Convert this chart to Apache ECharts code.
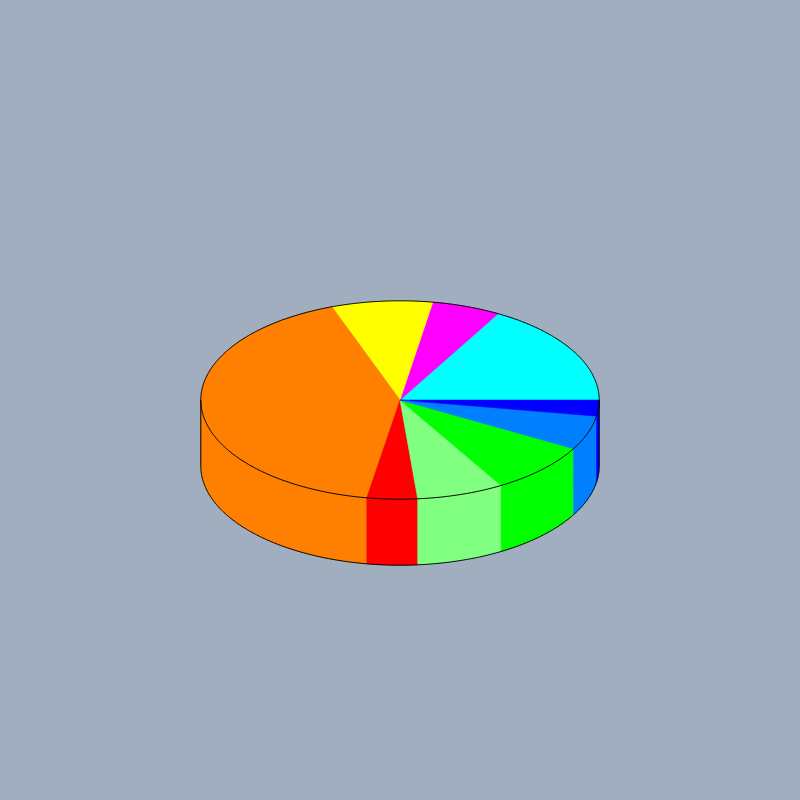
<!DOCTYPE html>
<html>
<head>
<meta charset="utf-8">
<script src="https://cdn.jsdelivr.net/npm/echarts@6/dist/echarts.min.js"></script>
<style>html,body{margin:0;padding:0;background:#a0aec0;}#c{width:800px;height:800px;}</style>
</head>
<body>
<div id="c"></div>
<script>
// Slices in counterclockwise order, starting at 3 o'clock
var categories = ['Cyan', 'Magenta', 'Yellow', 'Orange', 'Red', 'Light green', 'Green', 'Azure', 'Blue'];
var values = [60.5, 20, 29.5, 150.4, 14.7, 25.4, 30.1, 20, 9.4];
var colors = ['#00ffff', '#ff00ff', '#ffff00', '#ff8000', '#ff0000', '#80ff80', '#00ff00', '#0080ff', '#0000ff'];

var total = values.reduce(function (a, b) { return a + b; }, 0);
var starts = [];
(function () { var acc = 0; for (var i = 0; i < values.length; i++) { starts.push(acc); acc += values[i]; } })();

function geom(api) {
  var w = api.getWidth(), h = api.getHeight();
  return { cx: w / 2, cy: h / 2, rx: w * 0.249, ry: h * 0.124, d: h * 0.0825 };
}
function pt(g, deg, dy) {
  var t = deg * Math.PI / 180;
  return [g.cx + g.rx * Math.cos(t), g.cy - g.ry * Math.sin(t) + (dy || 0)];
}
function arc(g, a0, a1, dy) {
  var pts = [];
  var n = Math.max(2, Math.ceil(Math.abs(a1 - a0) / 0.5));
  for (var k = 0; k <= n; k++) pts.push(pt(g, a0 + (a1 - a0) * k / n, dy));
  return pts;
}

function renderSlice(params, api) {
  var g = geom(api);
  var i = params.dataIndex;
  var a0 = starts[i] / total * 360;
  var a1 = (starts[i] + api.value(0)) / total * 360;
  var color = colors[i];
  var children = [];
  var w0 = Math.max(a0, 180), w1 = Math.min(a1, 360);
  if (w1 > w0) {
    var top = arc(g, w0, w1, 0);
    var bot = arc(g, w1, w0, g.d);
    children.push({ type: 'polygon', shape: { points: top.concat(bot) }, style: { fill: color, stroke: color, lineWidth: 0.5 } });
  }
  var pts = [[g.cx, g.cy]].concat(arc(g, a0, a1, 0));
  children.push({ type: 'polygon', shape: { points: pts }, style: { fill: color, stroke: color, lineWidth: 0.5 } });
  return { type: 'group', children: children };
}

function renderOutline(params, api) {
  var g = geom(api);
  var ell = arc(g, 0, 360, 0);
  var bottom = arc(g, 180, 360, g.d);
  var st = { stroke: '#000', lineWidth: 1, fill: null };
  return {
    type: 'group',
    children: [
      { type: 'polyline', shape: { points: ell }, style: st },
      { type: 'polyline', shape: { points: bottom }, style: st },
      { type: 'line', shape: { x1: g.cx - g.rx, y1: g.cy, x2: g.cx - g.rx, y2: g.cy + g.d }, style: st },
      { type: 'line', shape: { x1: g.cx + g.rx, y1: g.cy, x2: g.cx + g.rx, y2: g.cy + g.d }, style: st }
    ]
  };
}

var chart = echarts.init(document.getElementById('c'), null, { renderer: 'canvas' });
chart.setOption({
  backgroundColor: '#a0aec0',
  animation: false,
  series: [
    {
      type: 'custom',
      name: 'slices',
      coordinateSystem: 'none',
      renderItem: renderSlice,
      data: values.map(function (v, i) { return { name: categories[i], value: [v] }; }),
      z: 1
    },
    {
      type: 'custom',
      name: 'outline',
      coordinateSystem: 'none',
      renderItem: renderOutline,
      data: [[0]],
      silent: true,
      z: 2
    }
  ]
});
</script>
</body>
</html>
